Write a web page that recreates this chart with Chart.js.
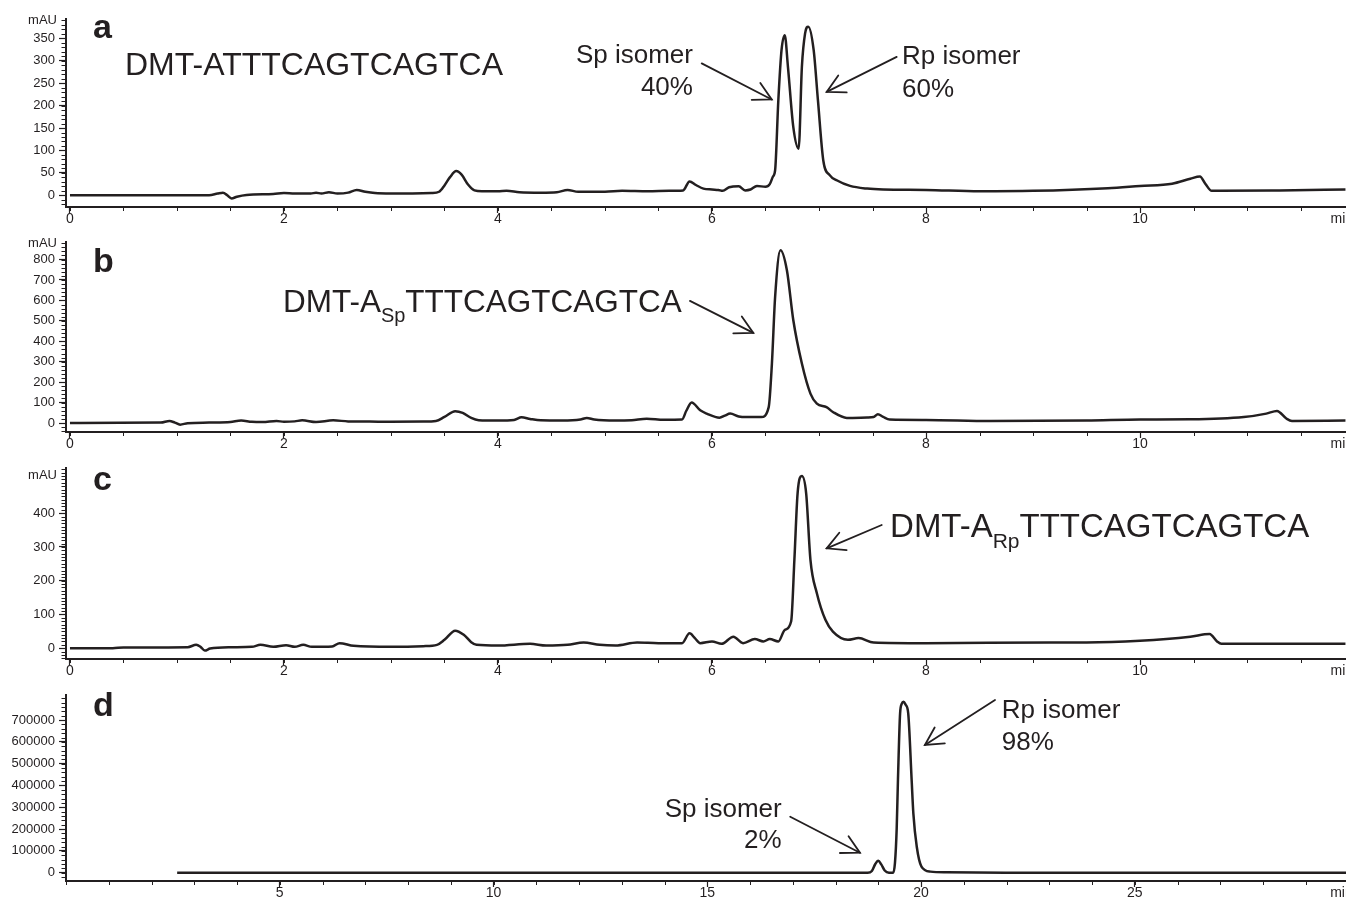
<!DOCTYPE html>
<html><head><meta charset="utf-8">
<script src="https://cdn.jsdelivr.net/npm/chart.js@4/dist/chart.umd.min.js"></script>
<style>
html,body{margin:0;padding:0;background:#fff;}
#wrap{position:relative;width:1346px;height:900px;overflow:hidden;background:#fff;}
canvas{position:absolute;left:0;}
</style></head><body>
<div id="wrap">
<canvas id="ca" width="1346" height="226" style="top:0px"></canvas>
<canvas id="cb" width="1346" height="229" style="top:226px"></canvas>
<canvas id="cc" width="1346" height="228" style="top:455px"></canvas>
<canvas id="cd" width="1346" height="217" style="top:683px"></canvas>
</div>
<script>
// ---------- data (retention time in min, absorbance) ----------
const timeA = [0, 1.30, 1.38, 1.43, 1.47, 1.51, 1.56, 1.65, 1.90, 2.00, 2.10, 2.25, 2.30, 2.35, 2.42, 2.50, 2.60, 2.68, 2.76, 2.85, 3.00, 3.20, 3.38, 3.45, 3.50, 3.55, 3.61, 3.66, 3.72, 3.78, 3.85, 4.00, 4.08, 4.20, 4.40, 4.55, 4.65, 4.75, 5.00, 5.16, 5.40, 5.60, 5.73, 5.79, 5.85, 5.92, 6.00, 6.06, 6.10, 6.16, 6.25, 6.31, 6.36, 6.42, 6.50, 6.54, 6.57, 6.59, 6.62, 6.65, 6.68, 6.71, 6.76, 6.81, 6.84, 6.87, 6.90, 6.95, 6.99, 7.04, 7.10, 7.17, 7.29, 7.45, 7.60, 8.00, 8.50, 9.00, 9.70, 10.00, 10.30, 10.47, 10.56, 10.61, 10.67, 10.75, 11.30, 11.92];
const absA  = [0, 0, 4, 6, 0, -7, -3, 1, 3, 5, 4, 4, 6, 4, 7, 4, 6, 12, 8, 5, 4, 4, 5, 8, 22, 40, 54, 46, 24, 11, 9, 9, 10, 7, 6, 7, 12, 8, 8, 10, 9, 10, 11, 31, 23, 15, 13, 12, 10, 18, 20, 11, 13, 21, 19, 25, 42, 56, 212, 324, 357, 286, 152, 104, 286, 361, 376, 324, 212, 78, 45, 33, 21, 15, 13, 12, 9, 10, 16, 21, 26, 37, 42, 26, 10, 10, 11, 13];

const timeB = [0, 0.85, 0.93, 0.98, 1.03, 1.10, 1.30, 1.50, 1.60, 1.70, 1.80, 1.93, 2.00, 2.10, 2.17, 2.30, 2.46, 2.60, 2.80, 3.00, 3.30, 3.42, 3.50, 3.60, 3.67, 3.75, 3.82, 4.00, 4.15, 4.22, 4.30, 4.40, 4.60, 4.77, 4.83, 4.90, 5.10, 5.25, 5.39, 5.55, 5.72, 5.76, 5.81, 5.89, 5.95, 6.07, 6.12, 6.17, 6.25, 6.32, 6.46, 6.53, 6.56, 6.59, 6.64, 6.70, 6.76, 6.84, 6.92, 6.98, 7.07, 7.13, 7.26, 7.45, 7.51, 7.55, 7.60, 7.66, 8.00, 8.60, 9.50, 10.00, 10.47, 10.97, 11.18, 11.28, 11.37, 11.42, 11.92];
const absB  = [0, 2, 10, 2, -8, -1, 2, 5, 12, 6, 5, 10, 6, 8, 13, 5, 13, 8, 7, 6, 7, 10, 30, 58, 50, 25, 14, 12, 15, 28, 20, 13, 12, 17, 25, 17, 12, 14, 21, 16, 17, 60, 100, 62, 46, 26, 36, 46, 32, 29, 29, 78, 291, 618, 846, 748, 503, 291, 144, 95, 78, 54, 25, 27, 29, 43, 30, 17, 15, 10, 12, 17, 18, 29, 46, 59, 21, 10, 12];

const timeC = [0, 0.40, 0.50, 1.10, 1.18, 1.22, 1.26, 1.31, 1.50, 1.70, 1.78, 1.90, 2.02, 2.10, 2.18, 2.26, 2.45, 2.52, 2.65, 3.00, 3.30, 3.43, 3.50, 3.60, 3.68, 3.75, 3.80, 4.00, 4.30, 4.45, 4.65, 4.80, 4.95, 5.10, 5.30, 5.50, 5.72, 5.79, 5.84, 5.89, 6.00, 6.09, 6.20, 6.29, 6.40, 6.48, 6.54, 6.62, 6.68, 6.74, 6.77, 6.80, 6.84, 6.88, 6.92, 6.98, 7.06, 7.13, 7.27, 7.37, 7.51, 8.00, 9.16, 9.50, 10.00, 10.47, 10.65, 10.72, 10.76, 11.92];
const absC  = [0, 0, 2, 3, 10, 4, -7, -1, 3, 4, 10, 4, 9, 4, 10, 4, 5, 15, 7, 4, 6, 10, 25, 52, 40, 18, 10, 8, 13, 8, 10, 17, 10, 8, 17, 15, 15, 44, 30, 15, 20, 13, 34, 15, 27, 20, 27, 20, 54, 80, 262, 459, 510, 459, 262, 163, 84, 49, 25, 30, 17, 15, 17, 17, 22, 34, 42, 20, 13, 13];

const timeD = [2.6, 18.75, 18.85, 18.93, 19.00, 19.07, 19.15, 19.25, 19.35, 19.39, 19.43, 19.46, 19.51, 19.55, 19.59, 19.64, 19.70, 19.78, 19.82, 19.90, 20.01, 20.22, 20.60, 22.00, 29.94];
const absD  = [0, 0, 8000, 40000, 55000, 38000, 10000, 0, 0, 45000, 200000, 426000, 731000, 775000, 784000, 770000, 731000, 426000, 272000, 119000, 28000, 5000, 2000, 0, 0];

// tick labels
const xTicksABC = [0, 2, 4, 6, 8, 10];
const xTicksD   = [5, 10, 15, 20, 25];
const yTicksA = [0, 50, 100, 150, 200, 250, 300, 350];
const yTicksB = [0, 100, 200, 300, 400, 500, 600, 700, 800];
const yTicksC = [0, 100, 200, 300, 400];
const yTicksD = [0, 100000, 200000, 300000, 400000, 500000, 600000, 700000];

// ---------- drawing ----------
const INK = '#231f20';
const FONT = "'Liberation Sans', Arial, Helvetica, sans-serif";

const decoPlugin = {
  id: 'deco',
  afterDraw(chart, args, o) {
    const ctx = chart.ctx, xs = chart.scales.x, ys = chart.scales.y;
    const P = (x, y) => [xs.getPixelForValue(x), ys.getPixelForValue(y)];
    ctx.save();
    ctx.strokeStyle = INK; ctx.fillStyle = INK; ctx.lineWidth = 1;
    // minor y ticks
    for (let i = Math.ceil(ys.min / o.yMinor); i <= Math.floor(ys.max / o.yMinor); i++) {
      const p = Math.round(ys.getPixelForValue(i * o.yMinor)) + 0.5;
      ctx.beginPath(); ctx.moveTo(xs.left - 1, p); ctx.lineTo(xs.left - 4.5, p); ctx.stroke();
    }
    // minor x ticks
    for (let i = Math.ceil(xs.min / o.xMinor); i <= Math.floor(xs.max / o.xMinor); i++) {
      const p = Math.round(xs.getPixelForValue(i * o.xMinor)) + 0.5;
      ctx.beginPath(); ctx.moveTo(p, ys.bottom + 1); ctx.lineTo(p, ys.bottom + 4); ctx.stroke();
    }
    // unit labels
    if (o.unitY !== undefined) {
      ctx.font = '13px ' + FONT; ctx.textAlign = 'right'; ctx.textBaseline = 'middle';
      ctx.fillText('mAU', xs.left - 9, ys.getPixelForValue(o.unitY));
    }
    ctx.font = '14px ' + FONT; ctx.textAlign = 'left'; ctx.textBaseline = 'middle';
    ctx.fillText('min', xs.getPixelForValue(o.minX), ys.bottom + 12);
    // texts
    ctx.textBaseline = 'alphabetic';
    for (const t of o.texts) {
      const [x, y] = P(t.x, t.y);
      if (t.parts) {
        let cx = x;
        for (const part of t.parts) {
          ctx.font = (part.sub ? t.sub : t.size) + 'px ' + FONT;
          ctx.textAlign = 'left';
          ctx.fillText(part.s, cx, y + (part.sub ? t.subDy : 0));
          cx += ctx.measureText(part.s).width;
        }
      } else {
        ctx.font = (t.bold ? 'bold ' : '') + t.size + 'px ' + FONT;
        ctx.textAlign = t.align || 'left';
        ctx.fillText(t.s, x, y);
      }
    }
    // arrows
    ctx.lineWidth = 1.8; ctx.lineCap = 'round';
    for (const a of o.arrows) {
      const [x1, y1] = P(a.from[0], a.from[1]);
      const [x2, y2] = P(a.to[0], a.to[1]);
      const ang = Math.atan2(y1 - y2, x1 - x2);
      ctx.beginPath(); ctx.moveTo(x1, y1); ctx.lineTo(x2, y2); ctx.stroke();
      ctx.beginPath();
      ctx.moveTo(x2 + 20 * Math.cos(ang + 0.49), y2 + 20 * Math.sin(ang + 0.49));
      ctx.lineTo(x2, y2);
      ctx.lineTo(x2 + 20 * Math.cos(ang - 0.49), y2 + 20 * Math.sin(ang - 0.49));
      ctx.stroke();
    }
    ctx.restore();
  }
};

function makePanel(id, c) {
  new Chart(document.getElementById(id), {
    type: 'line',
    data: { datasets: [{
      data: c.t.map((t, i) => ({ x: t, y: c.v[i] })),
      borderColor: INK, borderWidth: 2.5, pointRadius: 0,
      cubicInterpolationMode: 'monotone', fill: false
    }] },
    options: {
      responsive: false, animation: false, events: [],
      layout: { padding: { top: c.padTop, left: 0, right: 0, bottom: 0 } },
      plugins: { legend: { display: false }, tooltip: { enabled: false }, deco: c.deco },
      scales: {
        x: {
          type: 'linear', min: c.xMin, max: c.xMax,
          afterFit: s => { s.height = c.xH; },
          afterBuildTicks: s => { s.ticks = c.xTicks.map(v => ({ value: v })); },
          grid: { drawOnChartArea: false, drawTicks: true, tickLength: 6, tickWidth: 1.2, tickColor: INK },
          border: { display: true, color: INK, width: 2 },
          ticks: { autoSkip: false, maxRotation: 0, padding: -1, color: INK,
                   font: { size: 14, family: FONT, lineHeight: 1 }, callback: v => String(v) }
        },
        y: {
          type: 'linear', min: c.yMin, max: c.yMax,
          afterFit: s => { s.width = 66; },
          afterBuildTicks: s => { s.ticks = c.yTicks.map(v => ({ value: v })); },
          grid: { drawOnChartArea: false, drawTicks: true, tickLength: 7, tickWidth: 1.2, tickColor: INK },
          border: { display: true, color: INK, width: 2 },
          ticks: { autoSkip: false, padding: 4, color: INK,
                   font: { size: 13, family: FONT }, callback: v => String(v) }
        }
      }
    },
    plugins: [decoPlugin]
  });
}

const xMinABC = -0.037, xMaxABC = 11.925;

makePanel('ca', {
  t: timeA, v: absA, padTop: 19, xH: 19,
  xMin: xMinABC, xMax: xMaxABC, yMin: -26, yMax: 393,
  xTicks: xTicksABC, yTicks: yTicksA,
  deco: {
    yMinor: 10, xMinor: 0.5, unitY: 389, minX: 11.78,
    texts: [
      { s: 'a', x: 0.215, y: 350, size: 34, bold: true },
      { s: 'DMT-ATTTCAGTCAGTCA', x: 0.514, y: 268, size: 32 },
      { s: 'Sp isomer', x: 5.822, y: 294, size: 26, align: 'right' },
      { s: '40%', x: 5.822, y: 223, size: 26, align: 'right' },
      { s: 'Rp isomer', x: 7.776, y: 292, size: 26, align: 'left' },
      { s: '60%', x: 7.776, y: 220, size: 26, align: 'left' }
    ],
    arrows: [
      { from: [5.904, 294], to: [6.558, 213.6] },
      { from: [7.726, 308.7], to: [7.072, 230.6] }
    ]
  }
});

makePanel('cb', {
  t: timeB, v: absB, padTop: 16, xH: 23,
  xMin: xMinABC, xMax: xMaxABC, yMin: -44, yMax: 886,
  xTicks: xTicksABC, yTicks: yTicksB,
  deco: {
    yMinor: 20, xMinor: 0.5, unitY: 879, minX: 11.78,
    texts: [
      { s: 'b', x: 0.215, y: 740, size: 34, bold: true },
      { x: 1.99, y: 544, size: 31.5, sub: 20, subDy: 10,
        parts: [{ s: 'DMT-A' }, { s: 'Sp', sub: true }, { s: 'TTTCAGTCAGTCA' }] }
    ],
    arrows: [ { from: [5.794, 598], to: [6.386, 441] } ]
  }
});

makePanel('cc', {
  t: timeC, v: absC, padTop: 13, xH: 24,
  xMin: xMinABC, xMax: xMaxABC, yMin: -32, yMax: 534,
  xTicks: xTicksABC, yTicks: yTicksC,
  deco: {
    yMinor: 10, xMinor: 0.5, unitY: 513, minX: 11.78,
    texts: [
      { s: 'c', x: 0.215, y: 469, size: 34, bold: true },
      { x: 7.664, y: 329, size: 33, sub: 21, subDy: 11,
        parts: [{ s: 'DMT-A' }, { s: 'Rp', sub: true }, { s: 'TTTCAGTCAGTCA' }] }
    ],
    arrows: [ { from: [7.586, 365], to: [7.072, 296] } ]
  }
});

makePanel('cd', {
  t: timeD, v: absD, padTop: 12, xH: 19,
  xMin: 0, xMax: 29.94, yMin: -38000, yMax: 815000,
  xTicks: xTicksD, yTicks: yTicksD,
  deco: {
    yMinor: 20000, xMinor: 1, minX: 29.57,
    texts: [
      { s: 'd', x: 0.63, y: 718800, size: 34, bold: true },
      { s: 'Sp isomer', x: 16.74, y: 256900, size: 26, align: 'right' },
      { s: '2%', x: 16.74, y: 111900, size: 26, align: 'right' },
      { s: 'Rp isomer', x: 21.89, y: 708200, size: 26, align: 'left' },
      { s: '98%', x: 21.89, y: 562800, size: 26, align: 'left' }
    ],
    arrows: [
      { from: [16.94, 256900], to: [18.57, 91700] },
      { from: [21.73, 792000], to: [20.09, 585800] }
    ]
  }
});
</script>
</body></html>
